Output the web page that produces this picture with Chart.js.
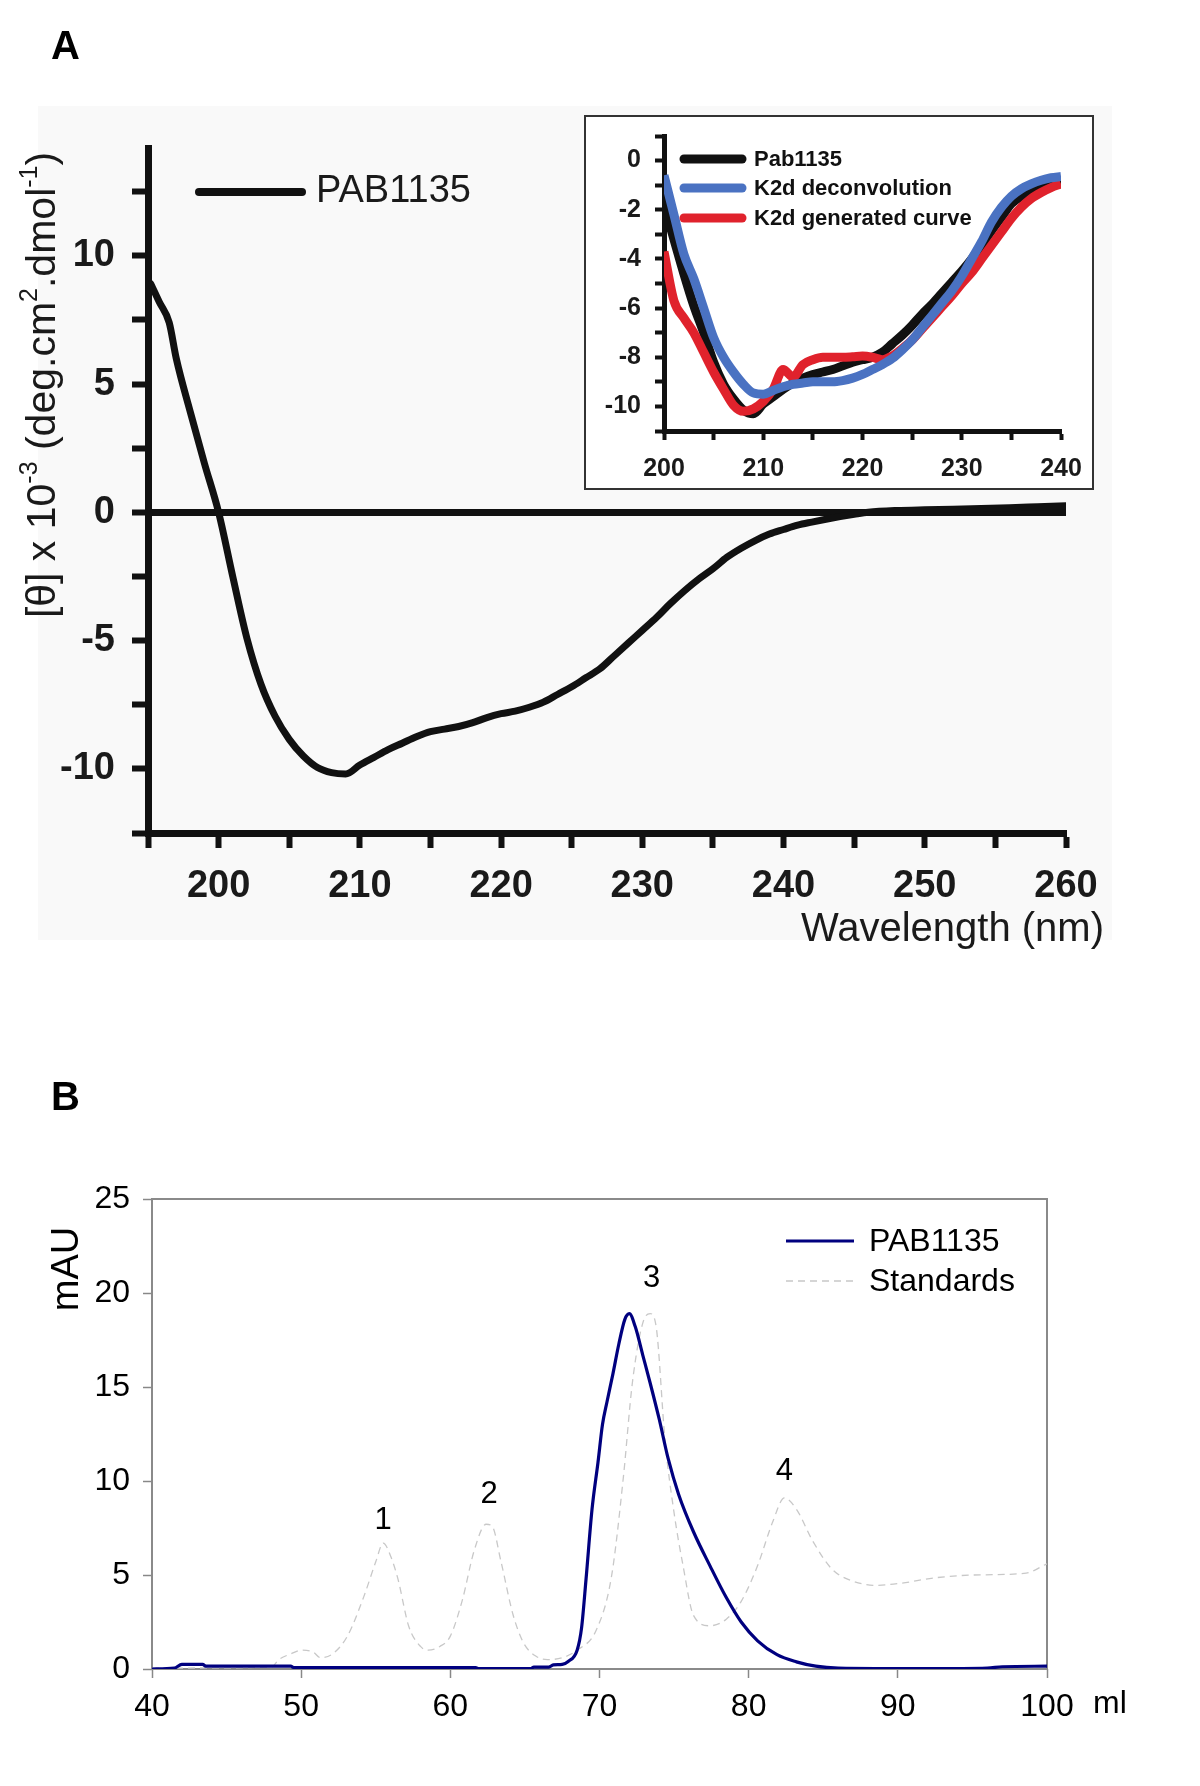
<!DOCTYPE html>
<html>
<head>
<meta charset="utf-8">
<title>PAB1135 CD spectrum and gel filtration</title>
<script src="https://cdn.jsdelivr.net/npm/chart.js@4.4.0/dist/chart.umd.min.js"></script>
<style>
  body { margin: 0; background: #fff; }
  #page { position: relative; width: 1200px; height: 1786px; }
  #page canvas, #bgA { position: absolute; }
  #bgA { left: 38px; top: 106px; width: 1074px; height: 834px; background: #f9f9f9; }
</style>
</head>
<body>
<div id="page">
  <div id="bgA"></div>
  <canvas id="cdMain" width="1200" height="960" style="left:0;top:0"></canvas>
  <canvas id="cdInset" width="510" height="375" style="left:584px;top:115px"></canvas>
  <canvas id="sec" width="1200" height="700" style="left:0;top:1060px"></canvas>
</div>
<script>
// panel A, main CD spectrum (x 10^-3 deg.cm2.dmol-1)
const cdWavelength = [195.2, 195.8, 196.5, 197, 198, 199, 200, 201, 202, 203, 204, 205, 206, 207, 208, 209,
  210, 211, 212, 213, 214, 215, 216, 217, 218, 219, 220, 221, 222, 223, 224, 225, 226, 227, 228, 229,
  230, 231, 232, 233, 234, 235, 236, 237, 238, 239, 240, 241, 242, 243, 244, 245, 246, 248, 250, 252,
  254, 256, 258, 260];
const cdPab = [8.9, 8.2, 7.4, 6.0, 3.9, 1.9, 0.0, -2.5, -4.9, -6.7, -7.95, -8.85, -9.5, -9.95, -10.15, -10.2,
  -9.85, -9.55, -9.25, -9.0, -8.75, -8.55, -8.45, -8.35, -8.2, -8.0, -7.85, -7.75, -7.6, -7.4, -7.1, -6.8, -6.45, -6.1, -5.6, -5.1,
  -4.6, -4.1, -3.55, -3.05, -2.6, -2.2, -1.75, -1.4, -1.1, -0.85, -0.67, -0.5, -0.38, -0.27, -0.17, -0.08, 0, 0.07, 0.1, 0.12,
  0.15, 0.18, 0.22, 0.26];
const cdTicksX = [200, 210, 220, 230, 240, 250, 260];
const cdTicksY = [-10, -5, 0, 5, 10];

// panel A, inset (200-240 nm, 1 nm steps)
const insetWavelength = [200, 201, 202, 203, 204, 205, 206, 207, 208, 209, 210, 211, 212, 213, 214, 215, 216, 217, 218, 219,
  220, 221, 222, 223, 224, 225, 226, 227, 228, 229, 230, 231, 232, 233, 234, 235, 236, 237, 238, 239, 240];
const insetPab = [-1.8, -3.2, -4.6, -5.9, -7.0, -8.2, -9.1, -9.7, -10.15, -10.3, -9.9, -9.6, -9.3, -9.05, -8.85, -8.7, -8.6, -8.5, -8.35, -8.2,
  -8.1, -8.0, -7.8, -7.45, -7.1, -6.7, -6.25, -5.85, -5.4, -4.95, -4.5, -4.0, -3.45, -2.85, -2.3, -1.75, -1.45, -1.2, -1.0, -0.85, -0.75];
const insetDeconv = [-0.6, -2.2, -3.8, -4.8, -6.0, -7.2, -8.0, -8.6, -9.1, -9.45, -9.5, -9.35, -9.2, -9.1, -9.05, -9.0, -9.0, -9.0, -8.95, -8.85,
  -8.7, -8.5, -8.3, -8.05, -7.7, -7.3, -6.8, -6.3, -5.8, -5.3, -4.7, -4.0, -3.3, -2.5, -1.9, -1.45, -1.15, -0.95, -0.8, -0.7, -0.65];
const insetGenerated = [-3.7, -5.7, -6.4, -7.0, -7.8, -8.6, -9.3, -9.95, -10.2, -10.1, -9.8, -9.3, -8.5, -8.8, -8.3, -8.1, -8.0, -8.0, -8.0, -7.98,
  -7.95, -8.0, -8.1, -7.95, -7.65, -7.3, -6.85, -6.4, -5.95, -5.5, -5.0, -4.55, -4.0, -3.45, -2.9, -2.35, -1.9, -1.55, -1.3, -1.1, -0.95];
const insetTicksX = [200, 210, 220, 230, 240];
const insetTicksY = [0, -2, -4, -6, -8, -10];

// panel B, gel filtration (mAU vs ml)
const secVolume = [40, 41.5, 42, 43.4, 43.6, 49.3, 49.5, 61.7, 61.9, 65.4, 65.6, 66.6, 66.9, 67.5, 67.9, 68.5, 68.8, 69.1, 69.5, 69.9,
  70.2, 70.5, 70.9, 71.3, 71.7, 72.0, 72.4, 72.9, 73.4, 74.0, 74.6, 75.3, 76.3, 77.4, 78.5, 79.5, 80.6, 81.9, 83.2, 84.5,
  86, 92, 96, 97, 100];
const secPab = [0, 0.05, 0.25, 0.25, 0.15, 0.15, 0.08, 0.08, 0.02, 0.02, 0.1, 0.1, 0.22, 0.25, 0.4, 1.0, 2.2, 4.8, 8.5, 11.0,
  13.0, 14.2, 15.7, 17.3, 18.6, 18.9, 18.2, 16.7, 15.2, 13.3, 11.2, 9.3, 7.3, 5.5, 3.8, 2.5, 1.5, 0.76, 0.38, 0.15,
  0.05, 0.02, 0.05, 0.12, 0.15];
const stdVolume = [40, 48, 48.5, 49.3, 50.0, 50.8, 51.3, 52.1, 53.1, 54.2, 55.0, 55.5, 56.0, 56.5, 57.2, 58.0, 58.5, 59.3, 60.0, 60.8,
  61.6, 62.4, 62.8, 63.4, 64.2, 64.9, 65.7, 66.5, 67.5, 68.5, 69.8, 70.8, 71.6, 72.2, 72.9, 73.4, 73.8, 74.4, 75.0, 75.6,
  76.3, 77.4, 78.5, 79.5, 80.6, 81.6, 82.4, 83.2, 84.3, 85.6, 86.9, 88.5, 90.1, 92.5, 95.1, 98.6, 100];
const stdValues = [0.05, 0.1, 0.5, 0.8, 1.0, 0.9, 0.6, 0.8, 1.75, 3.85, 5.7, 6.7, 6.0, 4.75, 2.3, 1.2, 1.0, 1.2, 1.75, 3.65,
  6.3, 7.7, 7.6, 5.7, 2.9, 1.4, 0.7, 0.5, 0.6, 1.0, 2.1, 4.9, 10.2, 15.2, 18.4, 18.9, 18.2, 12.1, 8.3, 5.5,
  2.85, 2.3, 2.65, 3.6, 5.5, 7.8, 9.1, 8.5, 6.8, 5.3, 4.7, 4.45, 4.55, 4.85, 5.0, 5.1, 5.6];
const peakNames = ['1', '2', '3', '4'];
const peakVolume = [55.5, 62.6, 73.5, 82.4];
const peakHeight = [7.9, 9.3, 20.8, 10.5];

const FONT = '"Liberation Sans", Arial, Helvetica, sans-serif';
const pts = (xs, ys) => xs.map((x, i) => ({ x, y: ys[i] }));
const near = (list, v) => list.some(t => Math.abs(t - v) < 1e-6);
// fixed axis box, no extra room for the end labels
const fixWidth = w => s => { s.width = w; s.paddingTop = 0; s.paddingBottom = 0; };
const fixHeight = h => s => { s.height = h; s.paddingLeft = 0; s.paddingRight = 0; };

// writes text runs, with raised superscript parts
function drawRich(ctx, parts, size, weight, align) {
  const fontOf = sup => weight + ' ' + (sup ? Math.round(size * 0.62) : size) + 'px ' + FONT;
  let total = 0;
  parts.forEach(([t, sup]) => { ctx.font = fontOf(sup); total += ctx.measureText(t).width; });
  let x = align === 'center' ? -total / 2 : align === 'right' ? -total : 0;
  ctx.textAlign = 'left';
  parts.forEach(([t, sup]) => {
    ctx.font = fontOf(sup);
    ctx.fillText(t, x, sup ? -size * 0.33 : 0);
    x += ctx.measureText(t).width;
  });
}

function annotate(id, items, frame) {
  return {
    id,
    beforeDraw(chart) {
      if (!frame || !frame.fill) return;
      const ctx = chart.ctx;
      ctx.save();
      ctx.fillStyle = frame.fill;
      ctx.fillRect(0, 0, chart.width, chart.height);
      ctx.restore();
    },
    beforeDatasetsDraw(chart) {
      if (!frame || !frame.area) return;
      const { left, top, right, bottom } = chart.chartArea;
      const ctx = chart.ctx;
      ctx.save();
      ctx.strokeStyle = frame.area;
      ctx.lineWidth = 2;
      ctx.strokeRect(left, top, right - left, bottom - top);
      ctx.restore();
    },
    afterDraw(chart) {
      const ctx = chart.ctx;
      if (frame && frame.box) {
        ctx.save();
        ctx.strokeStyle = frame.box;
        ctx.lineWidth = 2;
        ctx.strokeRect(1, 1, chart.width - 2, chart.height - 2);
        ctx.restore();
      }
      items.forEach(it => {
        ctx.save();
        if (it.line) {
          const [x1, y1, x2, y2] = it.line;
          ctx.strokeStyle = it.color;
          ctx.lineWidth = it.width;
          ctx.lineCap = it.cap || 'butt';
          if (it.dash) ctx.setLineDash(it.dash);
          ctx.beginPath();
          ctx.moveTo(x1, y1);
          ctx.lineTo(x2, y2);
          ctx.stroke();
        } else {
          const p = typeof it.pos === 'function' ? it.pos(chart) : it.pos;
          ctx.translate(p[0], p[1]);
          if (it.rotate) ctx.rotate(it.rotate);
          ctx.fillStyle = it.color || '#111';
          ctx.textBaseline = 'middle';
          drawRich(ctx, it.parts || [[it.text]], it.size, it.weight || 'normal', it.align || 'left');
        }
        ctx.restore();
      });
    }
  };
}

// ---------- panel A main ----------
new Chart(document.getElementById('cdMain'), {
  type: 'line',
  data: {
    datasets: [{
      label: 'PAB1135',
      data: pts(cdWavelength, cdPab),
      borderColor: '#111',
      borderWidth: 7,
      borderCapStyle: 'round',
      borderJoinStyle: 'round',
      pointRadius: 0,
      cubicInterpolationMode: 'monotone'
    }]
  },
  options: {
    responsive: false,
    animation: false,
    layout: { padding: { top: 148, right: 134, left: 0, bottom: 0 } },
    plugins: { legend: { display: false }, tooltip: { enabled: false } },
    scales: {
      x: {
        type: 'linear', min: 195, max: 260,
        afterFit: fixHeight(127),
        ticks: {
          stepSize: 5, autoSkip: false, maxRotation: 0, padding: 16, color: '#1a1a1a',
          font: { family: FONT, size: 38, weight: 'bold' },
          callback: v => near(cdTicksX, v) ? String(v) : ''
        },
        grid: { drawOnChartArea: false, tickLength: 15, tickWidth: 6, tickColor: '#111' },
        border: { color: '#111', width: 7 }
      },
      y: {
        type: 'linear', min: -12.5, max: 14.2,
        afterFit: fixWidth(148),
        afterBuildTicks: s => {
          s.ticks = s.ticks.filter(t => Math.abs(t.value / 2.5 - Math.round(t.value / 2.5)) < 1e-6);
        },
        ticks: {
          stepSize: 2.5, autoSkip: false, padding: 17, color: '#1a1a1a',
          font: { family: FONT, size: 38, weight: 'bold' },
          callback: v => near(cdTicksY, v) ? String(v) : ''
        },
        grid: {
          color: c => (c.tick && c.tick.value === 0) ? '#111' : 'rgba(0,0,0,0)',
          lineWidth: c => (c.tick && c.tick.value === 0) ? 7 : 1,
          tickColor: '#111', tickWidth: 6, tickLength: 16
        },
        border: { color: '#111', width: 7 }
      }
    }
  },
  plugins: [annotate('cdMainText', [
    { text: 'A', pos: [51, 48], size: 40, weight: 'bold', color: '#000' },
    { parts: [['[θ] x 10'], ['-3', true], [' (deg.cm'], ['2', true], ['.dmol'], ['-1', true], [')']],
      pos: [44, 385], rotate: -Math.PI / 2, size: 41, align: 'center', color: '#1a1a1a' },
    { text: 'Wavelength (nm)', pos: [1104, 930], size: 40, align: 'right', color: '#1a1a1a' },
    { line: [199, 192, 302, 192], color: '#111', width: 8, cap: 'round' },
    { text: 'PAB1135', pos: [316, 192], size: 38, color: '#1a1a1a' }
  ])]
});

// ---------- panel A inset ----------
new Chart(document.getElementById('cdInset'), {
  type: 'line',
  data: {
    datasets: [
      { label: 'Pab1135', data: pts(insetWavelength, insetPab), borderColor: '#111', order: 2 },
      { label: 'K2d deconvolution', data: pts(insetWavelength, insetDeconv), borderColor: '#4a72c2', order: 0 },
      { label: 'K2d generated curve', data: pts(insetWavelength, insetGenerated), borderColor: '#e0222c', order: 1 }
    ].map(d => Object.assign(d, { borderWidth: 9, pointRadius: 0, borderJoinStyle: 'round', cubicInterpolationMode: 'monotone' }))
  },
  options: {
    responsive: false,
    animation: false,
    layout: { padding: { top: 21, right: 33, left: 0, bottom: 0 } },
    plugins: { legend: { display: false }, tooltip: { enabled: false } },
    scales: {
      x: {
        type: 'linear', min: 200, max: 240,
        afterFit: fixHeight(59),
        ticks: {
          stepSize: 5, autoSkip: false, maxRotation: 0, padding: 14, color: '#1a1a1a',
          font: { family: FONT, size: 25, weight: 'bold' },
          callback: v => near(insetTicksX, v) ? String(v) : ''
        },
        grid: { drawOnChartArea: false, tickLength: 9, tickWidth: 4, tickColor: '#111' },
        border: { color: '#111', width: 5 }
      },
      y: {
        type: 'linear', min: -11, max: 1,
        afterFit: fixWidth(80),
        ticks: {
          stepSize: 1, autoSkip: false, padding: 14, color: '#1a1a1a',
          font: { family: FONT, size: 25, weight: 'bold' },
          callback: v => near(insetTicksY, v) ? String(v) : ''
        },
        grid: { drawOnChartArea: false, tickLength: 9, tickWidth: 4, tickColor: '#111' },
        border: { color: '#111', width: 5 }
      }
    }
  },
  plugins: [annotate('cdInsetText', [
    { line: [100, 44, 158, 44], color: '#111', width: 9, cap: 'round' },
    { line: [100, 73, 158, 73], color: '#4a72c2', width: 9, cap: 'round' },
    { line: [100, 103, 158, 103], color: '#e0222c', width: 9, cap: 'round' },
    { text: 'Pab1135', pos: [170, 45], size: 22, weight: 'bold', color: '#111' },
    { text: 'K2d deconvolution', pos: [170, 74], size: 22, weight: 'bold', color: '#111' },
    { text: 'K2d generated curve', pos: [170, 104], size: 22, weight: 'bold', color: '#111' }
  ], { fill: '#fff', box: '#333' })]
});

// ---------- panel B ----------
const secTickFont = { family: FONT, size: 32 };
new Chart(document.getElementById('sec'), {
  type: 'line',
  data: {
    datasets: [
      { label: 'PAB1135', data: pts(secVolume, secPab), borderColor: '#00007f', borderWidth: 3.2,
        pointRadius: 0, cubicInterpolationMode: 'monotone' },
      { label: 'Standards', data: pts(stdVolume, stdValues), borderColor: '#c8c8c8', borderWidth: 1.3,
        borderDash: [7, 5], pointRadius: 0, cubicInterpolationMode: 'monotone' }
    ]
  },
  options: {
    responsive: false,
    animation: false,
    layout: { padding: { top: 139, right: 153, left: 0, bottom: 0 } },
    plugins: { legend: { display: false }, tooltip: { enabled: false } },
    scales: {
      x: {
        type: 'linear', min: 40, max: 100,
        afterFit: fixHeight(91),
        ticks: { stepSize: 10, padding: 10, color: '#000', font: secTickFont, maxRotation: 0 },
        grid: { drawOnChartArea: false, tickLength: 9, tickWidth: 1.5, tickColor: '#888' },
        border: { display: false }
      },
      y: {
        type: 'linear', min: 0, max: 25,
        afterFit: fixWidth(152),
        ticks: { stepSize: 5, padding: 13, color: '#000', font: secTickFont },
        grid: { drawOnChartArea: false, tickLength: 9, tickWidth: 1.5, tickColor: '#888' },
        border: { display: false }
      }
    }
  },
  plugins: [annotate('secText', [
    { text: 'B', pos: [51, 39], size: 40, weight: 'bold', color: '#000' },
    { text: 'mAU', pos: [68, 209], rotate: -Math.PI / 2, size: 38, align: 'center', color: '#000' },
    { text: 'ml', pos: [1110, 644], size: 32, align: 'center', color: '#000' },
    { line: [786, 181, 854, 181], color: '#00007f', width: 3.2 },
    { line: [786, 221, 854, 221], color: '#c8c8c8', width: 1.3, dash: [7, 5] },
    { text: 'PAB1135', pos: [869, 182], size: 32, color: '#000' },
    { text: 'Standards', pos: [869, 222], size: 32, color: '#000' }
  ].concat(peakNames.map((name, i) => ({
    text: name, size: 31, align: 'center', color: '#000',
    pos: c => [c.scales.x.getPixelForValue(peakVolume[i]), c.scales.y.getPixelForValue(peakHeight[i])]
  }))), { area: '#8a8a8a' })]
});
</script>
</body>
</html>
